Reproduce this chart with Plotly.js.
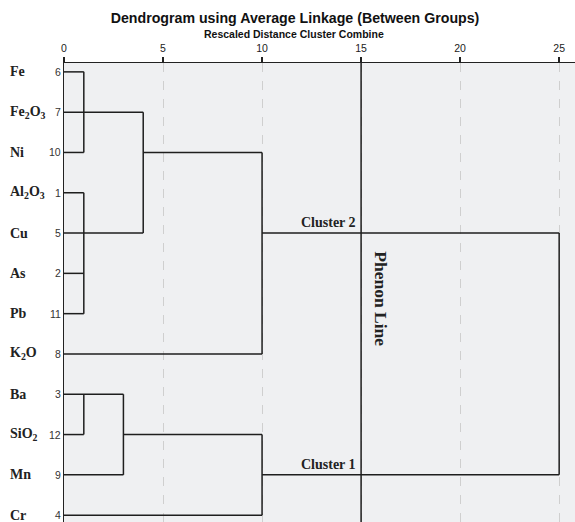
<!DOCTYPE html>
<html><head><meta charset="utf-8">
<script src="https://cdn.plot.ly/plotly-3.0.1.min.js"></script>
<style>html,body{margin:0;padding:0;background:#fff}</style>
</head><body>
<div id="chart" style="width:575px;height:522px"></div>
<script>
// Leaves (top to bottom) and SPSS case numbers
const leafNames = ['Fe','Fe<sub>2</sub>O<sub>3</sub>','Ni','Al<sub>2</sub>O<sub>3</sub>','Cu','As','Pb','K<sub>2</sub>O','Ba','SiO<sub>2</sub>','Mn','Cr'];
const caseNumbers = ['6','7','10','1','5','2','11','8','3','12','9','4'];
// Horizontal links: row, start distance, end distance
const hRow   = [0,1,2,3,4,5,6,7,8,9,10,11, 2, 4, 9, 10];
const hFrom  = [0,0,0,0,0,0,0,0,0,0,0,0,   4, 10, 3, 10];
const hTo    = [1,4,1,1,4,1,1,10,3,1,3,10, 10, 25, 10, 25];
// Vertical joins: distance, first row, last row
const vDist  = [1, 1, 4, 10, 1, 3, 10, 25];
const vTop   = [0, 3, 1, 2,  8, 8, 9,  4];
const vBot   = [2, 6, 4, 7,  9, 10, 11, 10];
// Phenon line cut
const phenonDist = 15;
const clusterNames = ['Cluster 2','Cluster 1'];
const clusterRows = [4, 10];
const xTicks = [0,5,10,15,20,25];

const W = 575, H = 522, L = 64, T = 63;
const PW = W - L, PH = H - T;

const xs = [], ys = [];
for (let i = 0; i < hRow.length; i++) { xs.push(hFrom[i], hTo[i], null); ys.push(hRow[i], hRow[i], null); }
for (let i = 0; i < vDist.length; i++) { xs.push(vDist[i], vDist[i], null); ys.push(vTop[i], vBot[i], null); }

const traces = [
  {x: xs, y: ys, mode: 'lines', line: {color: '#1e1e1e', width: 1.5}, hoverinfo: 'skip', showlegend: false},
  {x: [phenonDist, phenonDist], y: [-0.23, 11.2], mode: 'lines', line: {color: '#1e1e1e', width: 1.5}, hoverinfo: 'skip', showlegend: false}
];

const serif = 'Liberation Serif, Times New Roman, serif';
const sans = 'Liberation Sans, Arial, sans-serif';
const annotations = [];
leafNames.forEach((n, i) => annotations.push({
  x: (8 - L) / PW, xref: 'paper', y: i, yref: 'y', text: n, showarrow: false,
  xanchor: 'left', yanchor: 'middle', font: {family: serif, size: 14, color: '#222', weight: 'bold'}
}));
caseNumbers.forEach((n, i) => annotations.push({
  x: (63 - L) / PW, xref: 'paper', y: i, yref: 'y', text: n, showarrow: false,
  xanchor: 'right', yanchor: 'middle', font: {family: sans, size: 10.5, color: '#333'}
}));
clusterNames.forEach((n, i) => annotations.push({
  x: phenonDist, xref: 'x', y: clusterRows[i], yref: 'y', text: n, showarrow: false,
  xanchor: 'right', yanchor: 'bottom', xshift: -3, yshift: 1,
  font: {family: serif, size: 14, color: '#222', weight: 'bold'}
}));
annotations.push({
  x: phenonDist, xref: 'x', y: 5.62, yref: 'y', text: 'Phenon Line', showarrow: false,
  textangle: 90, xanchor: 'left', yanchor: 'middle', xshift: 8,
  font: {family: serif, size: 17.5, color: '#222', weight: 'bold'}
});
annotations.push({
  x: (294 - L) / PW, xref: 'paper', y: 1 + (T - 34) / PH, yref: 'paper', yanchor: 'middle', xanchor: 'center', showarrow: false,
  text: 'Rescaled Distance Cluster Combine', font: {family: sans, size: 10.5, color: '#111', weight: 'bold'}
});

const layout = {
  width: W, height: H,
  margin: {l: L, r: 0, t: T, b: 0},
  paper_bgcolor: '#ffffff', plot_bgcolor: '#eff0f2',
  title: {text: 'Dendrogram using Average Linkage (Between Groups)', x: 295/575, xanchor: 'center', y: 1 - 18/522, yanchor: 'middle',
    font: {family: sans, size: 14.2, color: '#111', weight: 600}},
  xaxis: {side: 'top', range: [0, 25.8], tickvals: xTicks, ticks: 'outside', ticklen: 5, tickcolor: '#222', tickwidth: 1.5,
    showline: true, linecolor: '#222', linewidth: 1.5, zeroline: false,
    showgrid: true, gridcolor: '#cfcfcf', griddash: 'dash', gridwidth: 1,
    tickfont: {family: sans, size: 10.5, color: '#222'}},
  yaxis: {range: [11.17, -0.22], tickmode: 'array', tickvals: [], showticklabels: false,
    ticks: '', showgrid: false, zeroline: false, showline: true, linecolor: '#222', linewidth: 1.5},
  annotations: annotations
};

Plotly.newPlot('chart', traces, layout, {displayModeBar: false, staticPlot: true});
</script>
</body></html>
